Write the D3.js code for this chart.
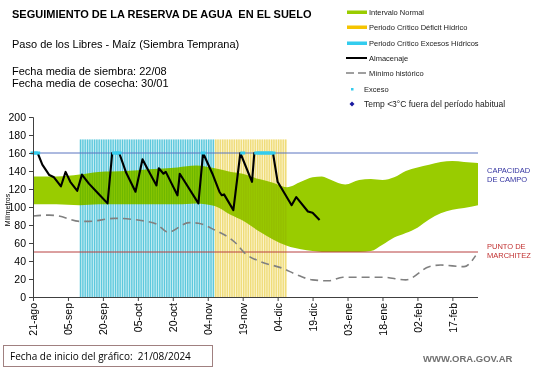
<!DOCTYPE html>
<html lang="es">
<head>
<meta charset="UTF-8">
<title>Seguimiento de la reserva de agua en el suelo</title>
<script src="https://cdn.jsdelivr.net/npm/d3@7"></script>
<style>
    body { margin: 0; background: #fff; }
    svg { display: block; font-family: "Liberation Sans", Arial, sans-serif; }
</style>
</head>
<body>
<svg id="chart"></svg>
<script>
// --- datos (días desde el inicio del gráfico, 21/08/2024) ---
const inicio = new Date(2024, 7, 21);
const diasTotales = 191;
const meses = ["ene", "feb", "mar", "abr", "may", "jun", "jul", "ago", "sep", "oct", "nov", "dic"];
const ticksY = [0, 20, 40, 60, 80, 100, 120, 140, 160, 180, 200];
const ticksDias = [0, 15, 30, 45, 60, 75, 90, 105, 120, 135, 150, 165, 180];

const capacidadCampo = 160;
const puntoMarchitez = 50;

// intervalo normal
const bandaDias = [0, 10, 20, 28, 40, 50, 62, 70, 78, 85, 90, 97, 103, 109, 115, 120, 124, 128, 134, 140, 145, 150, 155, 160, 165, 170, 175, 180, 185, 191];
const bandaSup  = [134, 134, 136, 139, 140, 142, 144, 146, 143, 139, 137, 131, 127, 122, 128, 133, 134, 130, 125, 130, 131, 130, 133, 140, 144, 147, 150, 151, 150, 149];
const bandaInf  = [103, 103, 102, 103, 103, 103, 103, 104, 101, 91, 85, 73, 64, 57, 53, 51, 50, 50, 50, 50, 51, 58, 66, 71, 77, 86, 93, 97, 99, 102];

// almacenaje
const almDias    = [0, 2.1, 4.7, 7.3, 9.4, 12.3, 14.2, 16.6, 19.9, 21.1, 24.4, 28.7, 32.7, 34.4, 37.3, 40.2, 44.5, 47, 49.4, 53.2, 54.9, 56.2, 57, 62.2, 63, 71, 73, 77.3, 80.2, 81.5, 82.3, 86.6, 89.9, 94.5, 95.9, 103, 105.9, 108.1, 111.6, 113.1, 118.8, 120.2, 123.1];
const almValores = [160, 160, 147, 135.5, 133, 123, 139, 128, 118, 136, 126, 115, 104, 160, 160, 138, 117, 153, 143, 124, 143, 137, 139, 113, 137, 104, 160, 137, 117, 113, 114, 96.5, 160, 128, 160, 160, 128, 115, 102, 111, 95, 93.5, 85.5];

// mínimo histórico
const minDias    = [0, 7.3, 11.6, 20.2, 24.4, 35.9, 45.9, 53, 58.7, 67.3, 71.6, 78.8, 87.3, 91.6, 98.8, 107.3, 113.1, 120.2, 127.4, 133.1, 150.2, 160.8, 170.2, 175.9, 185.9, 190];
const minValores = [90, 91, 90, 84, 84, 87.4, 85.5, 81, 72, 82.6, 82, 74.4, 60, 48.5, 39, 32, 25, 19, 18, 22, 22, 19, 33.7, 35.5, 33.7, 46];

// días con excesos (almacenaje en capacidad de campo)
const excesoDias = [0, 1, 2, 35, 36, 37, 73, 90, 96, 97, 98, 99, 100, 101, 102, 103];

// períodos críticos [primer día, último día] y altura de las columnas
const periodoExcesos = [20, 77];
const periodoDeficit = [78, 108];
const alturaPeriodo = 175;

const width = 541, height = 368;
const svg = d3.select("#chart").attr("width", width).attr("height", height);

const dia = d => d3.timeDay.offset(inicio, d);
const x = d3.scaleTime().domain([inicio, dia(diasTotales)]).range([33, 478]);
const y = d3.scaleLinear().domain([0, 200]).range([297, 117]);

const banda = bandaDias.map((d, i) => ({ d: d, sup: bandaSup[i], inf: bandaInf[i] }));
const area = d3.area().curve(d3.curveMonotoneX)
    .x(d => x(dia(d.d))).y0(d => y(d.inf)).y1(d => y(d.sup));

svg.append("clipPath").attr("id", "clipBanda")
    .append("path").datum(banda).attr("d", area);

// columnas de períodos críticos
function columnas(g, periodo, claro, oscuro) {
    const dias = d3.range(periodo[0], periodo[1] + 1);
    g.selectAll(null).data(dias).enter().append("rect")
        .attr("x", d => x(dia(d)))
        .attr("width", d => x(dia(d + 1)) - x(dia(d)))
        .attr("y", y(alturaPeriodo))
        .attr("height", y(0) - y(alturaPeriodo))
        .attr("fill", claro);
    g.selectAll(null).data(dias).enter().append("rect")
        .attr("x", d => x(dia(d)) + 0.3)
        .attr("width", 1.3)
        .attr("y", y(alturaPeriodo))
        .attr("height", y(0) - y(alturaPeriodo))
        .attr("fill", oscuro);
}
const colFondo = svg.append("g");
columnas(colFondo, periodoExcesos, "#c4ecf3", "#5cc8dc");
columnas(colFondo, periodoDeficit, "#faf1c0", "#efdc7a");

// banda intervalo normal
svg.append("path")
    .datum(banda)
    .attr("fill", "#99cc00")
    .attr("d", area);

// columnas vistas a través de la banda
const colBanda = svg.append("g")
    .attr("clip-path", "url(#clipBanda)")
    .style("mix-blend-mode", "multiply")
    .style("opacity", 0.45);
columnas(colBanda, periodoExcesos, "#c4ecf3", "#5cc8dc");
columnas(colBanda, periodoDeficit, "#faf1c0", "#efdc7a");

// líneas de referencia
svg.append("line")
    .attr("x1", x(dia(0))).attr("x2", x(dia(diasTotales)))
    .attr("y1", y(capacidadCampo)).attr("y2", y(capacidadCampo))
    .attr("stroke", "#5a74c0").attr("stroke-width", 1);
svg.append("line")
    .attr("x1", x(dia(0))).attr("x2", x(dia(diasTotales)))
    .attr("y1", y(puntoMarchitez)).attr("y2", y(puntoMarchitez))
    .attr("stroke", "#b84040").attr("stroke-width", 1);

// mínimo histórico
svg.append("path")
    .datum(minDias.map((d, i) => [d, minValores[i]]))
    .attr("fill", "none")
    .attr("stroke", "#808080")
    .attr("stroke-width", 1.6)
    .attr("stroke-dasharray", "8,5")
    .attr("d", d3.line().curve(d3.curveMonotoneX).x(d => x(dia(d[0]))).y(d => y(d[1])));

// almacenaje
svg.append("path")
    .datum(almDias.map((d, i) => [d, almValores[i]]))
    .attr("fill", "none")
    .attr("stroke", "#000")
    .attr("stroke-width", 2.1)
    .attr("stroke-linejoin", "round")
    .attr("d", d3.line().x(d => x(dia(d[0]))).y(d => y(d[1])));

// excesos
svg.append("g").selectAll("rect").data(excesoDias).enter().append("rect")
    .attr("x", d => x(dia(d)) - 2.5)
    .attr("y", y(capacidadCampo) - 1.5)
    .attr("width", 5).attr("height", 3)
    .attr("fill", "#33ccee");

// ejes
const ejeY = svg.append("g")
    .attr("transform", `translate(${x(dia(0))},0)`)
    .call(d3.axisLeft(y).tickValues(ticksY).tickSize(4).tickPadding(3));
ejeY.selectAll("text").style("font-size", "10.5px").attr("fill", "#000");
ejeY.selectAll("line, path").attr("stroke", "#404040");

const ejeX = svg.append("g")
    .attr("transform", `translate(0,${y(0)})`)
    .call(d3.axisBottom(x).tickValues(ticksDias.map(dia)).tickSize(4)
        .tickFormat(d => d3.timeFormat("%d")(d) + "-" + meses[d.getMonth()]));
ejeX.select(".domain").attr("d", `M${x(dia(0))},0.5H${x(dia(diasTotales))}`);
ejeX.selectAll("line, path").attr("stroke", "#404040");
ejeX.selectAll("text")
    .attr("x", -6).attr("y", 0).attr("dy", "0.35em")
    .attr("transform", "rotate(-90)")
    .style("text-anchor", "end")
    .style("font-size", "10.5px")
    .attr("fill", "#000");

svg.append("text")
    .attr("transform", `translate(10,210) rotate(-90)`)
    .attr("text-anchor", "middle")
    .style("font-size", "7px")
    .text("Milímetros");

// etiquetas de referencia
const etiq = (txt, yy, color) => svg.append("text").attr("x", 487).attr("y", yy)
    .attr("fill", color).style("font-size", "7.5px").text(txt);
etiq("CAPACIDAD", 173, "#3333a0");
etiq("DE  CAMPO", 182, "#3333a0");
etiq("PUNTO  DE", 249, "#c03030");
etiq("MARCHITEZ", 258, "#c03030");

// títulos
svg.append("text").attr("x", 12).attr("y", 18)
    .style("font-size", "11px").style("font-weight", "bold")
    .attr("xml:space", "preserve")
    .text("SEGUIMIENTO DE LA RESERVA DE AGUA  EN EL SUELO");
svg.append("text").attr("x", 12).attr("y", 48).style("font-size", "11px")
    .text("Paso de los Libres - Maíz  (Siembra Temprana)");
svg.append("text").attr("x", 12).attr("y", 75).style("font-size", "11px")
    .text("Fecha media de siembra: 22/08");
svg.append("text").attr("x", 12).attr("y", 87).style("font-size", "11px")
    .text("Fecha media de cosecha: 30/01");

// leyenda
const leyenda = svg.append("g").attr("fill", "#202020");
const filas = [
    { t: "Intervalo Normal", tipo: "barra", c: "#99cc00", yy: 12 },
    { t: "Periodo Crítico Déficit Hídrico", tipo: "barra", c: "#f5c400", yy: 27 },
    { t: "Periodo Crítico Excesos Hídricos", tipo: "barra", c: "#33ccee", yy: 43 },
    { t: "Almacenaje", tipo: "linea", c: "#000", yy: 58 },
    { t: "Mínimo histórico", tipo: "guion", c: "#808080", yy: 73 },
    { t: "Exceso", tipo: "punto", c: "#33ccee", yy: 89 },
    { t: "Temp <3°C fuera del período habitual", tipo: "rombo", c: "#1a1aa0", yy: 104 }
];
filas.forEach(f => {
    if (f.tipo === "barra") {
        leyenda.append("rect").attr("x", 347).attr("y", f.yy - 1.5).attr("width", 20).attr("height", 3.5).attr("fill", f.c);
    } else if (f.tipo === "linea") {
        leyenda.append("line").attr("x1", 346).attr("x2", 367).attr("y1", f.yy).attr("y2", f.yy).attr("stroke", f.c).attr("stroke-width", 2);
    } else if (f.tipo === "guion") {
        leyenda.append("line").attr("x1", 346).attr("x2", 367).attr("y1", f.yy).attr("y2", f.yy)
            .attr("stroke", f.c).attr("stroke-width", 1.5).attr("stroke-dasharray", "8,4");
    } else if (f.tipo === "punto") {
        leyenda.append("rect").attr("x", 351).attr("y", f.yy - 1).attr("width", 2.5).attr("height", 2.5).attr("fill", f.c);
    } else {
        leyenda.append("path").attr("d", `M352,${f.yy - 2.5}L354.5,${f.yy}L352,${f.yy + 2.5}L349.5,${f.yy}Z`).attr("fill", f.c);
    }
    leyenda.append("text").attr("x", f.tipo === "punto" || f.tipo === "rombo" ? 364 : 369).attr("y", f.yy + 3)
        .style("font-size", f.tipo === "rombo" ? "8.5px" : "7.5px")
        .text(f.t);
});

// pie
svg.append("rect").attr("x", 3.5).attr("y", 345.5).attr("width", 209).attr("height", 21)
    .attr("fill", "#fff").attr("stroke", "#a08080");
svg.append("text").attr("x", 10).attr("y", 360).style("font-family", "'Open Sans', sans-serif").style("font-size", "10px")
    .attr("xml:space", "preserve")
    .text("Fecha de inicio del gráfico:  21/08/2024");
svg.append("text").attr("x", 423).attr("y", 362).attr("fill", "#707070")
    .style("font-size", "9.5px").style("font-weight", "bold")
    .text("WWW.ORA.GOV.AR");
</script>
</body>
</html>
